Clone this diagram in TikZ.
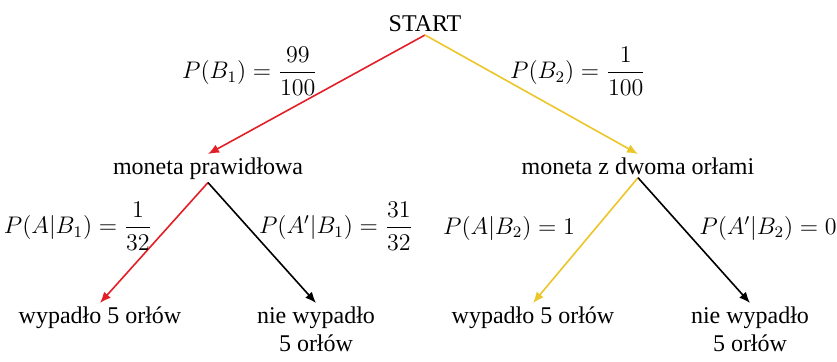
\documentclass[tikz,border=0pt]{standalone}
\usepackage{amsmath}
\usepackage{fontspec}
\setmainfont{Liberation Serif}
\usetikzlibrary{arrows.meta}
\definecolor{redbranch}{RGB}{228, 30, 38}
\definecolor{yellowbranch}{RGB}{236, 198, 40}

\begin{document}
\begin{tikzpicture}[x=0.5pt, y=-0.5pt,
		font=\fontsize{12}{14}\selectfont,
		branch/.style={line width=0.8pt, -{Latex[length=5.5pt, width=4.5pt]}},
		state/.style={inner sep=1.5pt, align=center}]
			\useasboundingbox (0,0) rectangle (837,361);
			
			% root and first level
			\node[state, anchor=south] (start) at (425, 35) {START};
			\node[state, anchor=north] (fair) at (208, 154) {moneta prawidłowa};
			\node[state, anchor=north] (twohead) at (638, 154) {moneta z dwoma orłami};
			
			% leaves
			\node[state, anchor=north] (fairyes) at (100, 303) {wypadło 5 orłów};
			\node[state, anchor=north] (fairno) at (316, 303) {nie wypadło\\5 orłów};
			\node[state, anchor=north] (twoyes) at (533, 303) {wypadło 5 orłów};
			\node[state, anchor=north] (twono) at (750, 303) {nie wypadło\\5 orłów};
			
			% branches
			\draw[branch, redbranch] (start.south) -- (fair.north);
			\draw[branch, yellowbranch] (start.south) -- (twohead.north);
			\draw[branch, redbranch] (fair.south) -- (fairyes.north);
			\draw[branch, black] (fair.south) -- (fairno.north);
			\draw[branch, yellowbranch] (twohead.south) -- (twoyes.north);
			\draw[branch, black] (twohead.south) -- (twono.north);
			
			% branch labels
			\node (pb1) at (250, 71) {$P(B_1)=\dfrac{99}{100}$};
			\node (pb2) at (578, 71) {$P(B_2)=\dfrac{1}{100}$};
			\node (pab1) at (78, 226) {$P(A|B_1)=\dfrac{1}{32}$};
			\node (pnab1) at (336, 226) {$P(A'|B_1)=\dfrac{31}{32}$};
			\node (pab2) at (509, 228) {$P(A|B_2)=1$};
			\node (pnab2) at (768, 228) {$P(A'|B_2)=0$};

		\end{tikzpicture}
\end{document}
